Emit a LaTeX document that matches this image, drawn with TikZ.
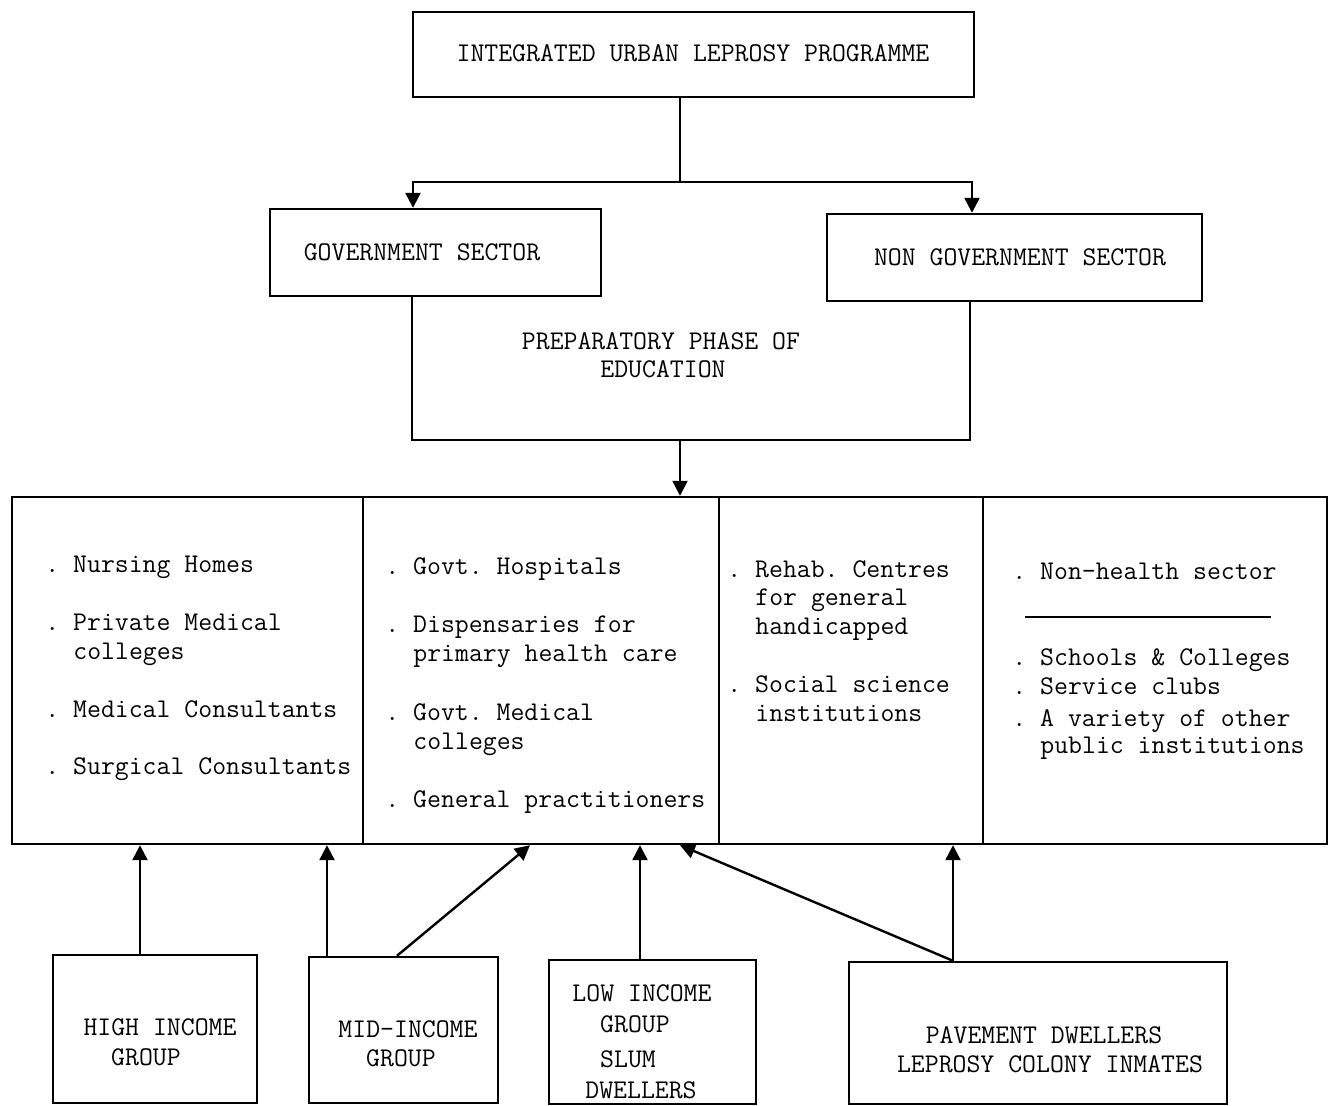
\documentclass[tikz,border=0pt]{standalone}
\usepackage{fontspec}
\usetikzlibrary{arrows.meta,fit}
\frenchspacing
\begin{document}
\begin{tikzpicture}[x=0.5pt,y=-0.5pt,
  every node/.style={font=\ttfamily\fontsize{13.5}{16}\selectfont\frenchspacing, inner sep=0pt},
  box/.style={draw, line width=1.2pt, inner sep=0pt},
  lbl/.style={anchor=center},
  item/.style={anchor=base west},
  link/.style={line width=1.2pt},
  arr/.style={link, -{Triangle[length=7.5pt,width=7.5pt]}}]
\useasboundingbox (0,0) rectangle (1334,1106);

% top boxes
\node[box, fit={(413,12) (974,97)}] (top) {};
\node[lbl] (topt) at (693,53) {INTEGRATED URBAN LEPROSY PROGRAMME};
\node[box, fit={(270,209) (601,296)}] (gov) {};
\node[lbl] (govt) at (422,252) {GOVERNMENT SECTOR};
\node[box, fit={(827,214) (1202,301)}] (ngov) {};
\node[lbl] (ngovt) at (1020,257) {NON GOVERNMENT SECTOR};

% preparatory phase
\coordinate (pl) at (412,440);
\coordinate (pr) at (970,440);
\coordinate (pb) at (680,440);
\node[lbl] (prep1) at (661,341) {PREPARATORY PHASE OF};
\node[lbl] (prep2) at (663,369) {EDUCATION};

% big box columns
\node[box, fit={(12,497) (363,844)}] (c1) {};
\node[box, fit={(363,497) (719,844)}] (c2) {};
\node[box, fit={(719,497) (983,844)}] (c3) {};
\node[box, fit={(983,497) (1327,844)}] (c4) {};

% column 1
\node[item] (a1) at (45,573) {. Nursing Homes};
\node[item] (a2) at (45,631) {. Private Medical};
\node[item] (a3) at (73,660) {colleges};
\node[item] (a4) at (45,718) {. Medical Consultants};
\node[item] (a5) at (45,775) {. Surgical Consultants};
% column 2
\node[item] (b1) at (385,575) {. Govt. Hospitals};
\node[item] (b2) at (385,633) {. Dispensaries for};
\node[item] (b3) at (413,662) {primary health care};
\node[item] (b4) at (385,721) {. Govt. Medical};
\node[item] (b5) at (413,749) {colleges};
\node[item] (b6) at (385,807) {. General practitioners};
% column 3
\node[item] (d1) at (727,578) {. Rehab. Centres};
\node[item] (d2) at (755,606) {for general};
\node[item] (d3) at (755,635) {handicapped};
\node[item] (d4) at (727,693) {. Social science};
\node[item] (d5) at (755,722) {institutions};
% column 4
\node[item] (e1) at (1012,580) {. Non-health sector};
\coordinate (rl) at (1025,617);
\coordinate (rr) at (1271,617);
\draw[line width=0.9pt] (rl) -- (rr);
\node[item] (e2) at (1012,666) {. Schools \& Colleges};
\node[item] (e3) at (1012,695) {. Service clubs};
\node[item] (e4) at (1012,726) {. A variety of other};
\node[item] (e5) at (1040,754) {public institutions};

% bottom boxes
\node[box, fit={(53,955) (257,1103)}] (high) {};
\node[lbl] (h1t) at (160,1027) {HIGH INCOME};
\node[lbl] (h2t) at (146,1057) {GROUP};
\node[box, fit={(309,957) (498,1103)}] (mid) {};
\node[lbl] (m1t) at (408,1029) {MID-INCOME};
\node[lbl] (m2t) at (401,1058) {GROUP};
\node[box, fit={(549,960) (756,1104)}] (low) {};
\node[lbl] (l1t) at (642,993) {LOW INCOME};
\node[lbl] (l2t) at (635,1024) {GROUP};
\node[lbl] (l3t) at (628,1059) {SLUM};
\node[lbl] (l4t) at (641,1090) {DWELLERS};
\node[box, fit={(849,962) (1227,1104)}] (pave) {};
\node[lbl] (p1t) at (1044,1035) {PAVEMENT DWELLERS};
\node[lbl] (p2t) at (1050,1064) {LEPROSY COLONY INMATES};

% top connectors
\coordinate (j) at (680,182);
\coordinate (jl) at (413,182);
\coordinate (jr) at (972,182);
\draw[link] (top.south -| j) -- (j);
\draw[arr] (j) -- (jl) -- (jl |- gov.north);
\draw[arr] (j) -- (jr) -- (jr |- ngov.north);
\draw[link] (gov.south -| pl) -- (pl) -- (pr) -- (ngov.south -| pr);
\draw[arr] (pb) -- (pb |- c2.north);

% bottom connectors
\coordinate (x1) at (140,0);
\coordinate (x2) at (327,0);
\coordinate (x3) at (397,0);
\coordinate (x4) at (530,0);
\coordinate (x5) at (640,0);
\coordinate (x6) at (680,0);
\coordinate (x7) at (953,0);
\draw[arr] (high.north -| x1) -- (c1.south -| x1);
\draw[arr] (mid.north -| x2) -- (c1.south -| x2);
\draw[arr] (mid.north -| x3) -- (c2.south -| x4);
\draw[arr] (low.north -| x5) -- (c2.south -| x5);
\draw[arr] (pave.north -| x7) -- (c2.south -| x6);
\draw[arr] (pave.north -| x7) -- (c4.south -| x7);
\end{tikzpicture}
\end{document}
